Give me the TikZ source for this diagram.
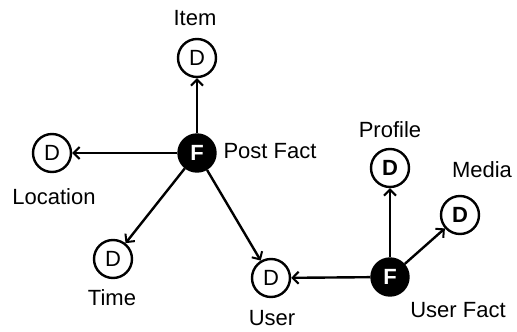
\documentclass[tikz,border=0pt]{standalone}
\usepackage{fontspec}
\setmainfont{Liberation Sans}
\usetikzlibrary{arrows.meta}
\begin{document}
\begin{tikzpicture}[x=1pt,y=-1pt,
  dim/.style={circle,draw,line width=2.4pt,fill=white,minimum size=38pt,inner sep=0pt,
    font=\fontsize{22}{26}\selectfont},
  dimb/.style={dim,font=\fontsize{22}{26}\selectfont\bfseries},
  fact/.style={circle,draw,line width=2.4pt,fill=black,text=white,minimum size=37pt,inner sep=0pt,
    font=\fontsize{22}{26}\selectfont\bfseries},
  lbl/.style={inner sep=0pt,font=\fontsize{22}{26}\selectfont},
  link/.style={line width=2.4pt,-{Straight Barb[length=6pt,width=12pt,line width=2pt]}}]
\useasboundingbox (0,0) rectangle (517,332);

% fact nodes
\node[fact] (pf) at (197,153) {F};
\node[fact] (uf) at (390,277) {F};

% dimension nodes
\node[dim]  (item) at (197,58)  {D};
\node[dim]  (loc)  at (52,153)  {D};
\node[dim]  (time) at (113,259) {D};
\node[dim]  (user) at (271,278) {D};
\node[dimb] (prof) at (390,168) {D};
\node[dimb] (med)  at (460,215) {D};

% labels
\node[lbl] (litem) at (195,18)  {Item};
\node[lbl] (lpf)   at (270,151) {Post Fact};
\node[lbl] (lloc)  at (54,197)  {Location};
\node[lbl] (ltime) at (112,298) {Time};
\node[lbl] (luser) at (272,318) {User};
\node[lbl] (lprof) at (390,130) {Profile};
\node[lbl] (lmed)  at (482,170) {Media};
\node[lbl] (luf)   at (458,310) {User Fact};

% connectors
\draw[link] (pf) -- (item);
\draw[link] (pf) -- (loc);
\draw[link] (pf) -- (time);
\draw[link] (pf) -- (user);
\draw[link] (uf) -- (user);
\draw[link] (uf) -- (prof);
\draw[link] (uf) -- (med);
\end{tikzpicture}
\end{document}
